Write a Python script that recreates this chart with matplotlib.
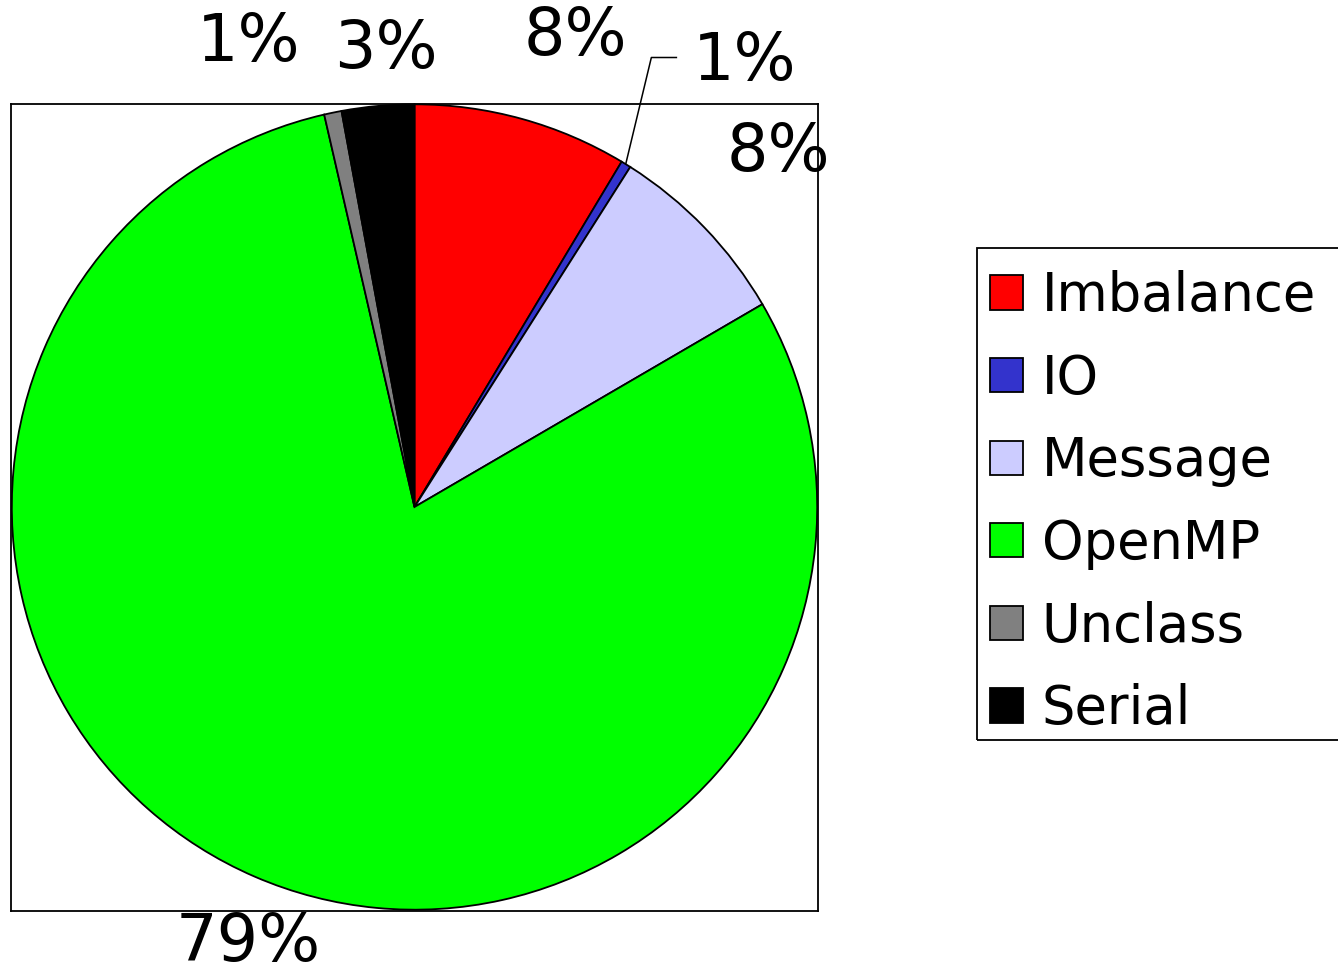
import matplotlib
matplotlib.use("Agg")
import matplotlib.pyplot as plt
from matplotlib.patches import Rectangle

# data
categories = ["Imbalance", "IO", "Message", "OpenMP", "Unclass", "Serial"]
shares = [8.6, 0.4, 7.6, 79.8, 0.7, 2.9]
pct_labels = ["8%", "1%", "8%", "79%", "1%", "3%"]
colors = ["#FF0000", "#3333CC", "#CCCCFF", "#00FF00", "#808080", "#000000"]

# where each percent label sits (pie radius = 1)
label_xy = [(0.399, 1.164), (0.819, 1.103), (0.902, 0.878),
            (-0.412, -1.080), (-0.411, 1.150), (-0.072, 1.133)]

fig = plt.figure(figsize=(13.38, 9.74), dpi=100)
ax = fig.add_axes([11 / 1338, 63 / 974, 807 / 1338, 808 / 974])

wedges, _ = ax.pie(shares, colors=colors, startangle=90, counterclock=False,
                   radius=0.998,
                   wedgeprops=dict(edgecolor="black", linewidth=1.3))

ax.set_frame_on(True)
for s in ax.spines.values():
    s.set_linewidth(1.3)
    s.set_color("black")
ax.set_xlim(-1, 1)
ax.set_ylim(-1, 1)
ax.set_xticks([])
ax.set_yticks([])

for txt, (x, y) in zip(pct_labels, label_xy):
    ax.text(x, y, txt, fontsize=47, ha="center", va="center", clip_on=False)

# leader line for the tiny IO slice
ax.plot([0.524, 0.587, 0.649], [0.852, 1.114, 1.114], color="black",
        linewidth=1.1, clip_on=False)

# legend
fig.legend(wedges, categories, loc="upper left",
           bbox_to_anchor=(990 / 1338, 1 - 270 / 974), frameon=False,
           fontsize=38, handlelength=0.62, handleheight=0.62,
           handletextpad=0.36, labelspacing=0.58, borderpad=0,
           borderaxespad=0)
fig.patches.append(Rectangle((977 / 1338, 1 - 740 / 974), 400 / 1338, 492 / 974,
                             transform=fig.transFigure, fill=False,
                             edgecolor="black", linewidth=1.3))

fig.savefig("out.png", dpi=100)
